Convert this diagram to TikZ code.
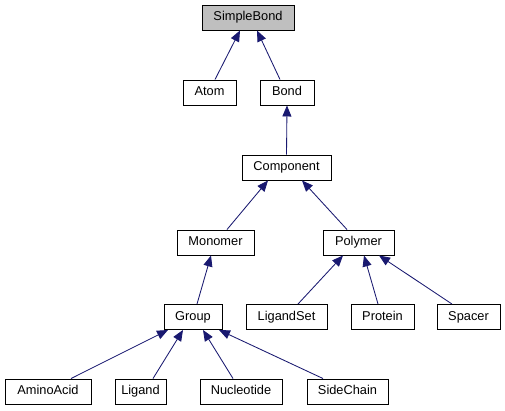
\documentclass[tikz,border=0pt]{standalone}
\usepackage{fontspec}
\setmainfont{Liberation Sans}
\usetikzlibrary{arrows.meta}
\definecolor{edgeblue}{RGB}{25,25,112}
\definecolor{basegray}{RGB}{191,191,191}
\tikzset{
  cls/.style={draw=black, line width=0.95pt, fill=white, inner sep=0pt,
    minimum height=25pt, text height=9.2pt, text depth=2.6pt,
    font=\fontsize{12.8}{15}\selectfont},
  baseclass/.style={cls, fill=basegray},
  edge/.style={draw=edgeblue, line width=0.85pt,
    -{Triangle[length=11pt,width=9pt,fill=edgeblue]}},
}
\begin{document}
\begin{tikzpicture}[x=1pt,y=-1pt]
\useasboundingbox (0,0) rectangle (505,411);
% row 0
\node[baseclass, minimum width=92pt] (sb) at (248,17.5) {SimpleBond};
% row 1
\node[cls, minimum width=53pt] (atom) at (209.5,92.5) {Atom};
\node[cls, minimum width=54pt] (bond) at (287,92.5) {Bond};
% row 2
\node[cls, minimum width=89pt] (comp) at (286.5,167.5) {Component};
% row 3
\node[cls, minimum width=77pt] (mono) at (215.5,242.5) {Monomer};
\node[cls, minimum width=71pt] (poly) at (358.5,242.5) {Polymer};
% row 4
\node[cls, minimum width=58pt] (group) at (193,317) {Group};
\node[cls, minimum width=81pt] (ligset) at (286.5,317) {LigandSet};
\node[cls, minimum width=63pt] (prot) at (382.5,317) {Protein};
\node[cls, minimum width=63pt] (spacer) at (468.5,317) {Spacer};
% row 5
\node[cls, minimum width=86pt] (amino) at (48,391.5) {AminoAcid};
\node[cls, minimum width=51pt] (lig) at (140.5,391.5) {Ligand};
\node[cls, minimum width=82pt] (nucl) at (241,391.5) {Nucleotide};
\node[cls, minimum width=81pt] (side) at (347.5,391.5) {SideChain};
% edges
\draw[edge] ([xshift=5.5pt]atom.north) -- ([xshift=-8pt]sb.south);
\draw[edge] ([xshift=-7pt]bond.north) -- ([xshift=9pt]sb.south);
\draw[edge] (comp.north) -- (bond.south);
\draw[edge] ([xshift=11.5pt]mono.north) -- ([xshift=-18.5pt]comp.south);
\draw[edge] ([xshift=-11.5pt]poly.north) -- ([xshift=15.5pt]comp.south);
\draw[edge] ([xshift=4pt]group.north) -- ([xshift=-4.5pt]mono.south);
\draw[edge] ([xshift=11.5pt]ligset.north) -- ([xshift=-15.5pt]poly.south);
\draw[edge] ([xshift=-4.5pt]prot.north) -- ([xshift=5.5pt]poly.south);
\draw[edge] ([xshift=-16.5pt]spacer.north) -- ([xshift=20.5pt]poly.south);
\draw[edge] ([xshift=23pt]amino.north) -- ([xshift=-25pt]group.south);
\draw[edge] ([xshift=12.5pt]lig.north) -- ([xshift=-10pt]group.south);
\draw[edge] ([xshift=-8pt]nucl.north) -- ([xshift=10pt]group.south);
\draw[edge] ([xshift=-24.5pt]side.north) -- ([xshift=26pt]group.south);
\end{tikzpicture}
\end{document}
